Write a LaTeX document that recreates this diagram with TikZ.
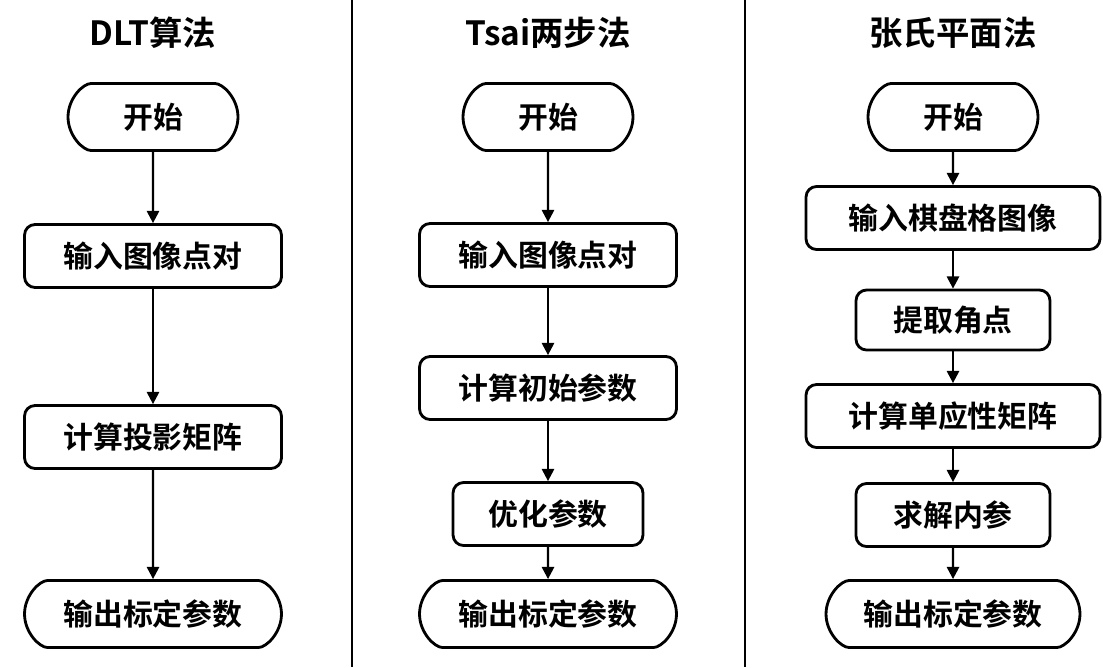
\documentclass[tikz,border=0pt]{standalone}
\usepackage{fontspec}
\setmainfont{Noto Sans CJK SC}[BoldFont={* Bold}]
\usetikzlibrary{shapes.misc,arrows.meta}
\tikzset{
  procbox/.style={draw, line width=1.6pt, rounded corners=6pt, inner sep=0pt,
               font=\fontsize{17}{20}\selectfont\bfseries, minimum height=1.26cm},
  term/.style={procbox, rounded rectangle, minimum height=1.34cm},
  title/.style={font=\fontsize{19}{22}\selectfont\bfseries},
  flow/.style={-{Triangle[length=7pt,width=7pt]}, line width=1.3pt}
}
\begin{document}
\begin{tikzpicture}[x=0.02cm,y=-0.02cm]
\useasboundingbox (0,0) rectangle (1103,667);
\draw[line width=1.3pt] (352,0) -- (352,667) (745,0) -- (745,667);
% DLT
\node[title] (t1) at (153,33) {DLT算法};
\node[term, minimum width=3.4cm] (a1) at (153,117) {开始};
\node[procbox, minimum width=5.14cm] (a2) at (153,256) {输入图像点对};
\node[procbox, minimum width=5.14cm] (a3) at (153,437) {计算投影矩阵};
\node[term, minimum width=5.14cm] (a4) at (153,614) {输出标定参数};
\draw[flow] (a1) -- (a2);
\draw[flow] (a2) -- (a3);
\draw[flow] (a3) -- (a4);
% Tsai
\node[title] (t2) at (548,33) {Tsai两步法};
\node[term, minimum width=3.4cm] (b1) at (548,117) {开始};
\node[procbox, minimum width=5.14cm] (b2) at (548,255) {输入图像点对};
\node[procbox, minimum width=5.14cm] (b3) at (548,388) {计算初始参数};
\node[procbox, minimum width=3.8cm] (b4) at (548,514) {优化参数};
\node[term, minimum width=5.14cm] (b5) at (548,614) {输出标定参数};
\draw[flow] (b1) -- (b2);
\draw[flow] (b2) -- (b3);
\draw[flow] (b3) -- (b4);
\draw[flow] (b4) -- (b5);
% Zhang
\node[title] (t3) at (953,33) {张氏平面法};
\node[term, minimum width=3.4cm] (c1) at (953,117) {开始};
\node[procbox, minimum width=5.88cm] (c2) at (953,218) {输入棋盘格图像};
\node[procbox, minimum width=3.88cm, minimum height=1.2cm] (c3) at (953,320) {提取角点};
\node[procbox, minimum width=5.88cm] (c4) at (953,416) {计算单应性矩阵};
\node[procbox, minimum width=3.88cm] (c5) at (953,515) {求解内参};
\node[term, minimum width=5.08cm] (c6) at (953,614) {输出标定参数};
\draw[flow] (c1) -- (c2);
\draw[flow] (c2) -- (c3);
\draw[flow] (c3) -- (c4);
\draw[flow] (c4) -- (c5);
\draw[flow] (c5) -- (c6);
\end{tikzpicture}
\end{document}
